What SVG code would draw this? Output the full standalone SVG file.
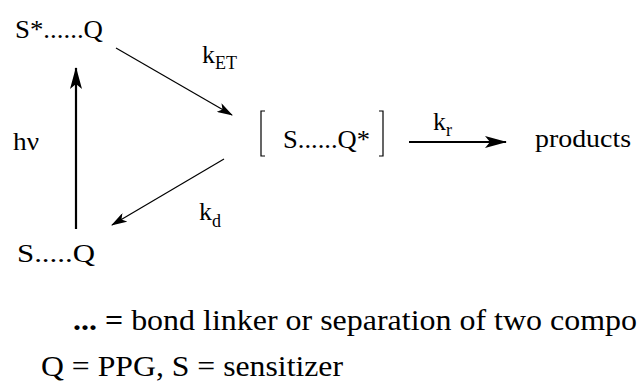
<svg xmlns="http://www.w3.org/2000/svg" width="638" height="381" viewBox="0 0 638 381">
<style>
.t{font-family:Liberation Serif,Times New Roman,Times,serif;fill:#000}
.lb{font-size:26px}
.sub{font-size:18px}
.note{font-size:29px}
.thin{stroke:#000;stroke-width:1.2;fill:none}
.thick{stroke:#000;stroke-width:2.2;fill:none}
</style>
<defs>
<marker id="ah" markerWidth="16" markerHeight="10" refX="15" refY="5" orient="auto" markerUnits="userSpaceOnUse">
<path d="M0,0 L16,5 L0,10 L4,5 Z" fill="#000"/>
</marker>
<marker id="ahb" markerWidth="22" markerHeight="12" refX="21" refY="6" orient="auto" markerUnits="userSpaceOnUse">
<path d="M0,0 L22,6 L0,12 L5,6 Z" fill="#000"/>
</marker>
</defs>
<g id="connectors">
<line class="thin" x1="116" y1="48" x2="232" y2="115" marker-end="url(#ah)"/>
<line class="thin" x1="224" y1="159" x2="112" y2="225" marker-end="url(#ah)"/>
<line class="thick" x1="76" y1="229" x2="76" y2="68" marker-end="url(#ahb)"/>
<line class="thick" x1="409" y1="142" x2="506" y2="142" marker-end="url(#ahb)"/>
</g>
<g id="label-ket"><text class="t lb" font-family="Liberation Serif, serif" x="202" y="63">k<tspan class="sub" dy="6">ET</tspan></text></g>
<g id="label-hv"><text class="t lb" font-family="Liberation Serif, serif" x="13" y="150" textLength="26" lengthAdjust="spacingAndGlyphs">hν</text></g>
<g id="label-kd"><text class="t lb" font-family="Liberation Serif, serif" x="199" y="220">k<tspan class="sub" dy="7">d</tspan></text></g>
<g id="label-kr"><text class="t lb" font-family="Liberation Serif, serif" x="433" y="130">k<tspan class="sub" dy="6">r</tspan></text></g>
<g id="node-excited-s"><text class="t lb" font-family="Liberation Serif, serif" x="15" y="38" textLength="88" lengthAdjust="spacingAndGlyphs">S*......Q</text></g>
<g id="node-ground"><text class="t lb" font-family="Liberation Serif, serif" x="17" y="262" textLength="78" lengthAdjust="spacingAndGlyphs">S.....Q</text></g>
<g id="node-excited-q">
<path class="thin" d="M265,111 L261,111 L261,156 L265,156"/>
<text class="t lb" font-family="Liberation Serif, serif" x="283" y="148" textLength="87" lengthAdjust="spacingAndGlyphs">S......Q*</text>
<path class="thin" d="M379,111 L383,111 L383,156 L379,156"/>
</g>
<g id="node-products"><text class="t lb" font-family="Liberation Serif, serif" x="535" y="147" textLength="96" lengthAdjust="spacingAndGlyphs">products</text></g>
<g id="legend">
<text class="t note" font-family="Liberation Serif, serif" x="73" y="330" textLength="564" lengthAdjust="spacingAndGlyphs"><tspan font-weight="bold">... =</tspan> bond linker or separation of two compo</text>
<text class="t note" font-family="Liberation Serif, serif" x="41" y="376" textLength="302" lengthAdjust="spacingAndGlyphs">Q = PPG, S = sensitizer</text>
</g>
</svg>
